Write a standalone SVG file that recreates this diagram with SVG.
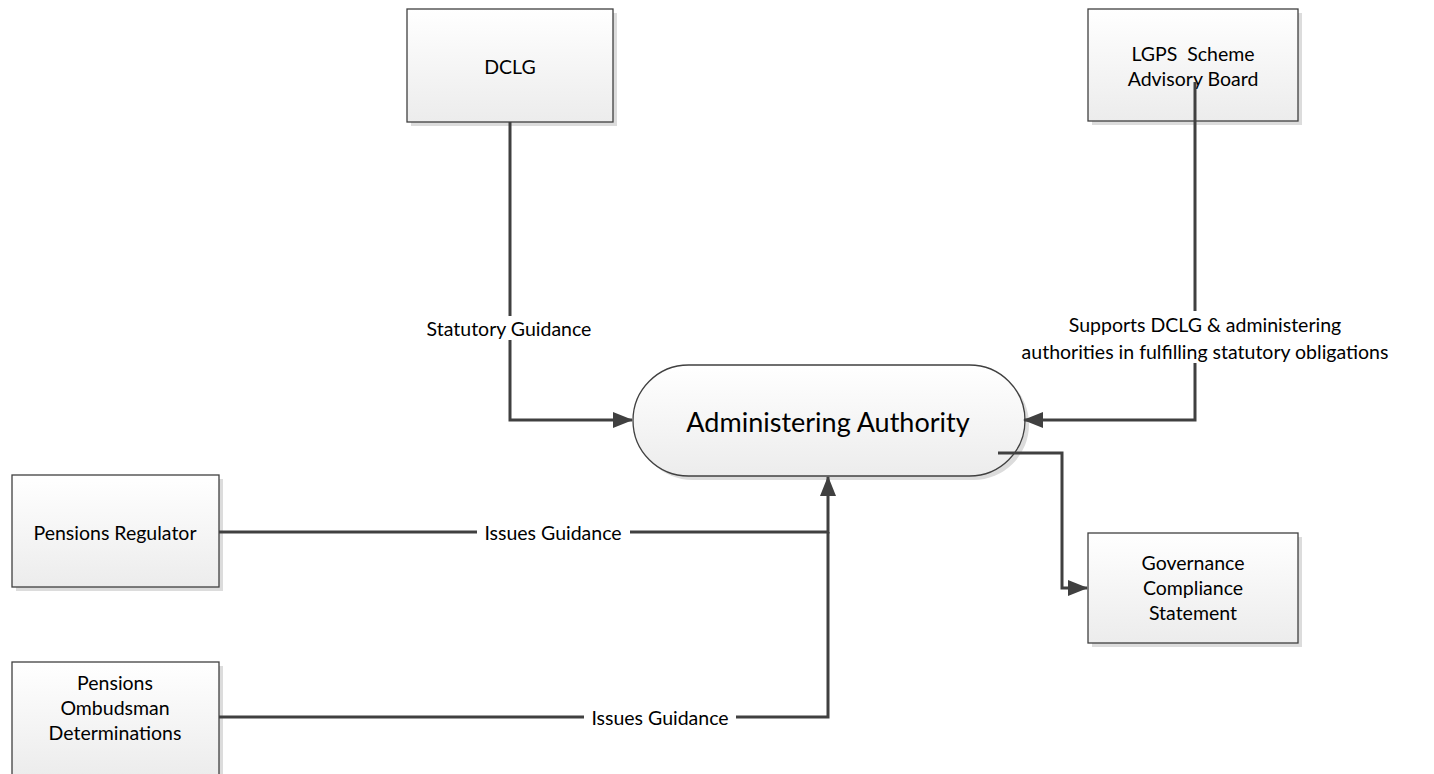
<svg xmlns="http://www.w3.org/2000/svg" width="1434" height="774" viewBox="0 0 1434 774">
<defs>
<linearGradient id="g" x1="0" y1="0" x2="0" y2="1">
<stop offset="0" stop-color="#ffffff"/>
<stop offset="1" stop-color="#ececec"/>
</linearGradient>
<marker id="ah" markerWidth="20" markerHeight="16" refX="19" refY="8" orient="auto" markerUnits="userSpaceOnUse">
<path d="M0,0 L20,8 L0,16 z" fill="#404040"/>
</marker>
</defs>
<style>
.box{fill:url(#g);stroke:#404040;stroke-width:1.3}
.sh{fill:#dcdcdc}
.t{font-family:Lato,"Open Sans",sans-serif;font-size:19.5px;fill:#000;text-anchor:middle;dominant-baseline:central}
.big{font-size:27px}
.c{fill:none;stroke:#404040;stroke-width:3}
.lb{fill:#fff}
</style>
<rect width="1434" height="774" fill="#fff"/>
<g id="dclg">
<rect class="sh" x="411" y="13" width="206" height="113"/>
<rect class="box" x="407" y="9" width="206" height="113"/>
<text class="t" x="510" y="66">DCLG</text>
</g>
<g id="lgps">
<rect class="sh" x="1092" y="13" width="210" height="112"/>
<rect class="box" x="1088" y="9" width="210" height="112"/>
<text class="t" x="1193" y="53">LGPS&#160; Scheme</text>
<text class="t" x="1193" y="78">Advisory Board</text>
</g>
<g id="authority">
<rect class="sh" x="637" y="369" width="392" height="111" rx="55.5"/>
<rect class="box" x="633" y="365" width="392" height="111" rx="55.5"/>
<text class="t big" x="828" y="421">Administering Authority</text>
</g>
<g id="regulator">
<rect class="sh" x="16" y="479" width="207" height="112"/>
<rect class="box" x="12" y="475" width="207" height="112"/>
<text class="t" x="115" y="532">Pensions Regulator</text>
</g>
<g id="ombudsman">
<rect class="sh" x="16" y="666" width="207" height="114"/>
<rect class="box" x="12" y="662" width="207" height="114"/>
<text class="t" x="115" y="682">Pensions</text>
<text class="t" x="115" y="707">Ombudsman</text>
<text class="t" x="115" y="732">Determinations</text>
</g>
<g id="governance">
<rect class="sh" x="1092" y="537" width="210" height="110"/>
<rect class="box" x="1088" y="533" width="210" height="110"/>
<text class="t" x="1193" y="562">Governance</text>
<text class="t" x="1193" y="587">Compliance</text>
<text class="t" x="1193" y="612">Statement</text>
</g>
<g id="connectors">
<path class="c" d="M510,122 V420 H632" marker-end="url(#ah)"/>
<path class="c" d="M1195,82 V420 H1024" marker-end="url(#ah)"/>
<path class="c" d="M219,532 H828 V477" marker-end="url(#ah)"/>
<path class="c" d="M219,717 H828 V532"/>
<path class="c" d="M998,453 H1062 V588 H1087" marker-end="url(#ah)"/>
<rect class="lb" x="416" y="316" width="186" height="24"/>
<text class="t" x="509" y="328">Statutory Guidance</text>
<rect class="lb" x="1068" y="311" width="276" height="52"/>
<text class="t" x="1205" y="324">Supports DCLG &amp; administering</text>
<text class="t" x="1205" y="351">authorities in fulfilling statutory obligations</text>
<rect class="lb" x="477" y="521" width="153" height="22"/>
<text class="t" x="553" y="532">Issues Guidance</text>
<rect class="lb" x="584" y="706" width="152" height="22"/>
<text class="t" x="660" y="717">Issues Guidance</text>
</g>
</svg>
